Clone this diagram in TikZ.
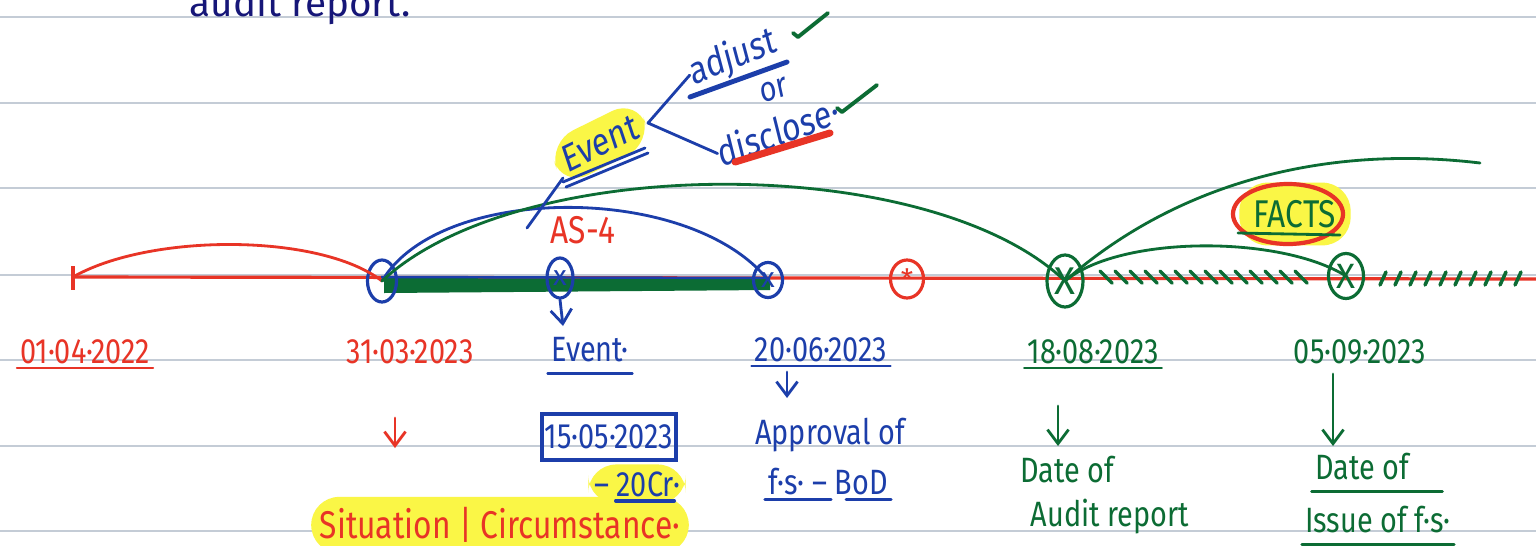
\documentclass[tikz,border=0pt]{standalone}
\usepackage{fontspec}
\setmainfont{Fira Sans}
\usetikzlibrary{arrows.meta,shapes.geometric}
\definecolor{penred}{RGB}{232,52,38}
\definecolor{penblue}{RGB}{28,62,170}
\definecolor{pengreen}{RGB}{12,108,52}
\definecolor{pennavy}{RGB}{22,22,120}
\definecolor{hilite}{RGB}{250,246,70}
\definecolor{ruling}{RGB}{196,204,214}
\begin{document}
\begin{tikzpicture}[
    x=0.01cm, y=-0.01cm,
    every node/.style={font=\fontsize{10}{12}\selectfont, inner sep=1pt},
    ink/.style={line width=0.8pt, line cap=round, line join=round},
    rink/.style={ink, draw=penred},
    bink/.style={ink, draw=penblue},
    gink/.style={ink, draw=pengreen},
    tip/.style={-{Straight Barb[length=4pt,width=6pt]}},
    rtxt/.style={text=penred, xscale=0.82},
    btxt/.style={text=penblue, xscale=0.82},
    gtxt/.style={text=pengreen, xscale=0.82},
    hl/.style={fill=hilite, rounded corners=8pt, inner sep=3pt},
    ring/.style={ellipse, draw, line width=0.9pt, inner sep=0pt, font=\fontsize{8}{8}\selectfont}
]
    \useasboundingbox (0,0) rectangle (1536,545);
    \fill[white] (0,0) rectangle (1536,545);

    % ruled paper
    \foreach \ry in {17,103,188,275,360,446,531}
        \draw[ruling, line width=0.5pt] (0,\ry) -- (1536,\ry);

    \node[text=pennavy, font=\fontsize{11}{11}\selectfont] (top) at (300,6) {audit report.};

    % timeline
    \coordinate (t0) at (73,277);
    \coordinate (tend) at (1536,279);
    \draw[penred, line width=0.9pt] (t0) -- (tend);
    \draw[penred, line width=0.9pt] (73,266) -- (73,290);
    \fill[pengreen] (384,278) -- (770,279) -- (770,290) -- (384,293) -- cycle;
    \draw[penblue, line width=0.7pt] (381,277) -- (770,278);

    \node[ring, draw=penblue, minimum width=0.29cm, minimum height=0.42cm] (p1) at (382,281) {};
    \node[ring, draw=penblue, text=penblue, minimum width=0.26cm, minimum height=0.40cm] (p2) at (560,278) {x};
    \node[ring, draw=penblue, text=penblue, minimum width=0.29cm, minimum height=0.35cm] (p3) at (768,280) {x};
    \node[ring, draw=penred, text=penred, minimum width=0.33cm, minimum height=0.38cm] (p4) at (907,279) {*};
    \node[ring, draw=pengreen, text=pengreen, font=\fontsize{11}{11}\selectfont, minimum width=0.36cm, minimum height=0.52cm] (p5) at (1065,281) {X};
    \node[ring, draw=pengreen, text=pengreen, font=\fontsize{10}{10}\selectfont, minimum width=0.35cm, minimum height=0.45cm] (p6) at (1346,276) {X};

    % arcs
    \draw[rink] (p1.center) .. controls (320,233) and (150,233) .. (t0);
    \draw[bink] (p1.center) .. controls (440,183) and (690,183) .. (p3.center);
    \draw[gink] (p1.center) .. controls (520,152) and (930,152) .. (p5.center);
    \draw[gink] (p5.center) .. controls (1180,180) and (1330,145) .. (1480,163);
    \draw[gink] (p5.center) .. controls (1120,235) and (1280,235) .. (p6.center);

    % hatching
    \foreach \hx in {1100,1115,...,1300}
        \draw[gink, line width=1pt] (\hx,271) -- ++(12,12);
    \foreach \hx in {1380,1395,...,1524}
        \draw[gink, line width=1pt] (\hx,285) -- ++(6,-13);

    % dates
    \node[rtxt] (d1) at (85,352) {01·04·2022};
    \node[rtxt] (d2) at (410,352) {31·03·2023};
    \node[btxt] (ev) at (590,350) {Event·};
    \node[btxt] (d3) at (821,350) {20·06·2023};
    \node[gtxt] (d4) at (1093,352) {18·08·2023};
    \node[gtxt] (d5) at (1360,352) {05·09·2023};
    \draw[rink, line width=0.5pt] (d1.south west) -- (d1.south east);
    \draw[bink] ([yshift=-2pt]ev.south west) -- ([yshift=-2pt]ev.south east);
    \draw[bink, line width=0.5pt] (d3.south west) -- (d3.south east);
    \draw[gink, line width=0.5pt] (d4.south west) -- (d4.south east);

    % notes below
    \node[btxt, draw=penblue, line width=0.9pt, minimum width=1.4cm, minimum height=0.46cm] (bx) at (609,437) {15·05·2023};
    \node[rtxt, hl, font=\fontsize{11}{12}\selectfont] (sit) at (500,525) {Situation | Circumstance·};
    \node[btxt, hl, inner sep=2pt] (cr) at (637,484) {– 20Cr·};
    \draw[bink, line width=1pt] ([xshift=0.28cm,yshift=1pt]cr.south west) -- ([xshift=-0.12cm,yshift=1pt]cr.south east);
    \node[btxt] (ap1) at (830,435) {Approval of};
    \node[btxt] (ap2) at (828,482) {f·s· – BoD};
    \draw[bink] (ap2.south west) -- ([xshift=-0.6cm]ap2.south east);
    \draw[bink] ([xshift=-0.45cm]ap2.south east) -- (ap2.south east);
    \node[gtxt] (da1) at (1067,470) {Date of};
    \node[gtxt] (da2) at (1110,517) {Audit report};
    \node[gtxt] (di1) at (1362,467) {Date of};
    \node[gtxt] (di2) at (1378,520) {Issue of f·s·};
    \draw[gink] ([yshift=-2pt]di1.south west) -- ([xshift=0.3cm,yshift=-2pt]di1.south east);
    \draw[gink] ([yshift=-2pt]di2.south west) -- ([yshift=-2pt]di2.south east);

    % down arrows
    \coordinate (e2) at (563,326);
    \coordinate (s3) at (787,372);
    \coordinate (e3) at (787,398);
    \coordinate (s1) at (395,418);
    \coordinate (e1) at (395,448);
    \coordinate (s4) at (1058,406);
    \coordinate (e4) at (1058,446);
    \coordinate (s5) at (1333,374);
    \coordinate (e5) at (1333,446);
    \draw[bink, tip] (p2.south) -- (e2);
    \draw[bink, tip] (s3) -- (e3);
    \draw[rink, tip] (s1) -- (e1);
    \draw[gink, tip] (s4) -- (e4);
    \draw[gink, tip] (s5) -- (e5);

    % above the line
    \node[rtxt, font=\fontsize{11}{11}\selectfont] (as4) at (583,230) {AS-4};
    \node[btxt, hl, rotate=22, font=\fontsize{11}{11}\selectfont] (evt) at (600,143) {Event};
    \draw[bink] (563,182) -- (645,148);
    \draw[bink] (566,187) -- (648,153);
    \draw[bink] (527,228) -- (563,178);
    \coordinate (brk) at (648,123);
    \node[btxt, rotate=18, inner sep=0pt, font=\fontsize{11}{11}\selectfont] (adj) at (733,58) {adjust};
    \node[btxt, rotate=15, inner sep=0pt] (orw) at (774,90) {or};
    \node[btxt, rotate=17, inner sep=0pt, font=\fontsize{11}{11}\selectfont] (dsc) at (778,131) {disclose·};
    \draw[bink] (adj.west) -- (brk) -- (dsc.west);
    \draw[penblue, line width=1.4pt, line cap=round] (690,97) -- (787,62);
    \draw[penred, line width=2pt, line cap=round] (735,162) -- (830,133);
    \draw[gink, line width=1.1pt] (793,33) -- (798,37) -- (828,13);
    \draw[gink, line width=1.1pt] (837,108) -- (842,112) -- (877,85);

    \node[gtxt, hl, inner sep=5pt, font=\fontsize{11}{11}\selectfont] (fct) at (1295,214) {FACTS};
    \node[ellipse, draw=penred, line width=1.2pt, minimum width=1.1cm, minimum height=0.6cm] (fcr) at (1288,214) {};
    \draw[gink] (1238,233) -- (1340,235);
\end{tikzpicture}
\end{document}
